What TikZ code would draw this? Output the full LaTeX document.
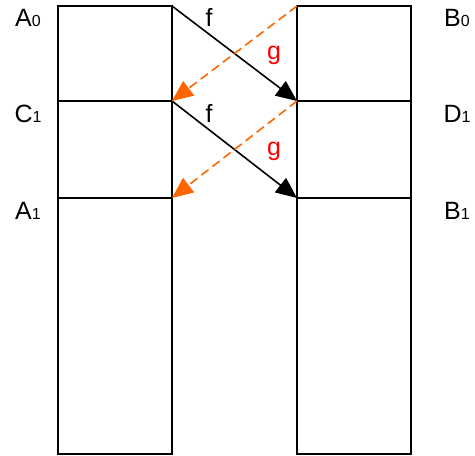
\documentclass[tikz,border=0pt]{standalone}
\usepackage{fontspec}
\setmainfont{Liberation Sans}
\usetikzlibrary{arrows.meta}
\definecolor{gorange}{RGB}{255,102,0}
\newcommand{\idx}[1]{{\fontsize{16}{16}\selectfont #1}}
\begin{document}
\begin{tikzpicture}[x=1pt, y=-1pt, font=\fontsize{25}{25}\selectfont,
    cell/.style={draw, line width=1.6pt, anchor=north west, minimum width=114pt, inner sep=0pt, outer sep=0pt},
    lbl/.style={anchor=base, inner sep=0pt},
    farrow/.style={line width=1.6pt, -{Triangle[length=21pt, width=18pt]}},
    garrow/.style={gorange, line width=1.6pt, dash pattern=on 9pt off 5pt, -{Triangle[length=21pt, width=18pt]}}]
        \useasboundingbox (0,0) rectangle (475,456);
        % left column
        \node[cell, minimum height=95pt] (L0) at (58,6) {};
        \node[cell, minimum height=97pt] (L1) at (58,101) {};
        \node[cell, minimum height=256pt] (L2) at (58,198) {};
        % right column
        \node[cell, minimum height=95pt] (R0) at (297,6) {};
        \node[cell, minimum height=97pt] (R1) at (297,101) {};
        \node[cell, minimum height=256pt] (R2) at (297,198) {};
        % row labels
        \node[lbl] (a0) at (28,26) {A\idx{0}};
        \node[lbl] (c1) at (28,122) {C\idx{1}};
        \node[lbl] (a1) at (28,219) {A\idx{1}};
        \node[lbl] (b0) at (457,26) {B\idx{0}};
        \node[lbl] (d1) at (457,122) {D\idx{1}};
        \node[lbl] (b1) at (457,219) {B\idx{1}};
        % maps
        \draw[farrow] (L0.north east) -- (R1.north west);
        \draw[farrow] (L1.north east) -- (R2.north west);
        \draw[garrow] (R0.north west) -- (L1.north east);
        \draw[garrow] (R1.north west) -- (L2.north east);
        \node[lbl] (f0) at (209,26) {f};
        \node[lbl] (f1) at (209,122) {f};
        \node[lbl, text=red] (g0) at (274,59) {g};
        \node[lbl, text=red] (g1) at (274,155) {g};
    \end{tikzpicture}
\end{document}
